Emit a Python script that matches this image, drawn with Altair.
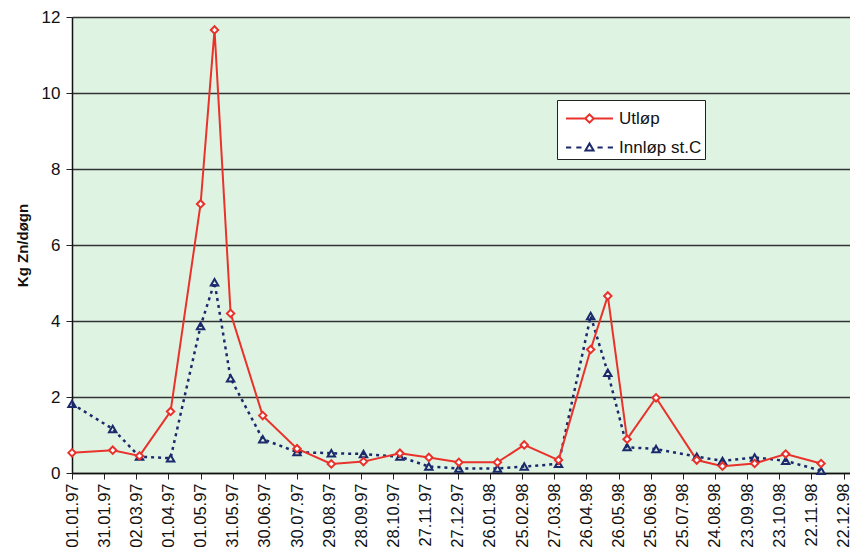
import altair as alt
import pandas as pd

dates = ["1997-01-01", "1997-02-08", "1997-03-05", "1997-04-03", "1997-05-01", "1997-05-14",
         "1997-05-29", "1997-06-28", "1997-07-30", "1997-08-31", "1997-09-30", "1997-11-03",
         "1997-11-30", "1997-12-28", "1998-02-02", "1998-02-27", "1998-03-31", "1998-04-30",
         "1998-05-16", "1998-06-03", "1998-06-30", "1998-08-07", "1998-08-31", "1998-09-30",
         "1998-10-29", "1998-12-01"]
utlop = [0.53, 0.60, 0.45, 1.62, 7.08, 11.66, 4.20, 1.51, 0.64, 0.24, 0.30, 0.52, 0.41, 0.28,
         0.28, 0.74, 0.34, 3.25, 4.66, 0.89, 1.98, 0.34, 0.18, 0.25, 0.50, 0.25]
innlop = [1.82, 1.16, 0.43, 0.39, 3.87, 5.02, 2.49, 0.89, 0.55, 0.52, 0.50, 0.43, 0.17, 0.12,
          0.12, 0.17, 0.24, 4.13, 2.64, 0.68, 0.63, 0.43, 0.32, 0.41, 0.32, 0.06]
series_names = ["Utløp", "Innløp st.C"]
tick_labels = ["01.01.97", "31.01.97", "02.03.97", "01.04.97", "01.05.97", "31.05.97", "30.06.97",
               "30.07.97", "29.08.97", "28.09.97", "28.10.97", "27.11.97", "27.12.97", "26.01.98",
               "25.02.98", "27.03.98", "26.04.98", "26.05.98", "25.06.98", "25.07.98", "24.08.98",
               "23.09.98", "23.10.98", "22.11.98", "22.12.98"]

rows = []
for d, u, i in zip(dates, utlop, innlop):
    rows.append({"date": d, "value": u, "series": series_names[0]})
    rows.append({"date": d, "value": i, "series": series_names[1]})
df = pd.DataFrame(rows)


def to_dt(lbl):
    dd, mm, yy = lbl.split(".")
    return alt.DateTime(year=1900 + int(yy), month=int(mm), date=int(dd), utc=True)


tick_vals = [to_dt(t) for t in tick_labels]

RED = "#e8322b"
NAVY = "#1b2a6b"

x_enc = alt.X(
    "date:T",
    scale=alt.Scale(type="utc",
                    domain=[alt.DateTime(year=1997, month=1, date=1, utc=True),
                            alt.DateTime(year=1998, month=12, date=28, utc=True)]),
    axis=alt.Axis(values=tick_vals, labelExpr="utcFormat(datum.value, '%d.%m.%y')",
                  labelAngle=-90, labelFontSize=16.5, labelColor="#111", labelPadding=4,
                  tickSize=6, tickColor="#222", tickWidth=1, domainColor="#111",
                  domainWidth=1.5, grid=False, title=None, labelFont="Liberation Sans",
                  labelBound=False, labelOverlap=False),
)
y_enc = alt.Y(
    "value:Q",
    scale=alt.Scale(domain=[0, 12], nice=False),
    axis=alt.Axis(values=[0, 2, 4, 6, 8, 10, 12], title="Kg Zn/døgn", titleFontSize=15,
                  titleFontWeight="bold", titleFont="Liberation Sans", titleColor="#111",
                  titlePadding=11, labelFontSize=17, labelFont="Liberation Sans",
                  labelColor="#111", labelPadding=6, tickSize=6, tickColor="#222",
                  domainColor="#111", domainWidth=1.5, grid=True, gridColor="#333",
                  gridWidth=1.6),
)

color_scale = alt.Scale(domain=series_names, range=[RED, NAVY])

diamond_path = ("M-1.62,0L-0.29,0M0.29,0L1.62,0"
                "M-0.29,0L0,-0.29L0.29,0L0,0.29Z")
triangle_path = ("M-1.62,0L-1.26,0M-0.91,0L-0.55,0M0.55,0L0.91,0M1.26,0L1.62,0"
                 "M-0.28,0.21L0,-0.28L0.28,0.21Z")

legend_props = dict(orient="none", legendX=485, legendY=83,
                    title=None, labelFontSize=17,
                    labelFont="Liberation Sans", labelColor="#111",
                    symbolStrokeWidth=2, symbolSize=841, symbolFillColor="transparent",
                    symbolOffset=14, fillColor="white", strokeColor="#222",
                    padding=3, rowPadding=5, labelOffset=14,
                    cornerRadius=0)

is_u = alt.datum.series == series_names[0]
is_i = alt.datum.series == series_names[1]

line_u = alt.Chart(df).transform_filter(is_u).mark_line(
    strokeWidth=2, color=RED).encode(x=x_enc, y=y_enc)
line_i = alt.Chart(df).transform_filter(is_i).mark_line(
    strokeWidth=2.5, color=NAVY, strokeDash=[3, 4]).encode(x=x_enc, y=y_enc)

pts_u = alt.Chart(df).transform_filter(is_u).mark_point(
    shape="diamond", filled=False, fill="white", strokeWidth=2, size=55, opacity=1,
    color=RED).encode(x=x_enc, y=y_enc)
pts_i = alt.Chart(df).transform_filter(is_i).mark_point(
    shape="triangle-up", filled=False, strokeWidth=2, size=55, opacity=1,
    color=NAVY).encode(x=x_enc, y=y_enc)

legend_layer = alt.Chart(df).transform_filter("false").mark_point(
    filled=False, strokeWidth=2, size=841, opacity=1).encode(
    x=x_enc, y=y_enc,
    color=alt.Color("series:N", scale=color_scale, title=None,
                    legend=alt.Legend(**legend_props)),
    shape=alt.Shape("series:N", title=None,
                    scale=alt.Scale(domain=series_names, range=[diamond_path, triangle_path]),
                    legend=alt.Legend(**legend_props)),
)

chart = alt.layer(line_i, line_u, pts_i, pts_u, legend_layer).properties(
    width=778, height=456,
    background="white",
    padding={"left": 72, "top": 17, "right": 0, "bottom": 87},
    autosize=alt.AutoSizeParams(type="none"),
).configure_view(
    fill="#dff3e3", stroke=None
)

chart.save("out.html", embed_options={"renderer": "svg", "actions": False})
